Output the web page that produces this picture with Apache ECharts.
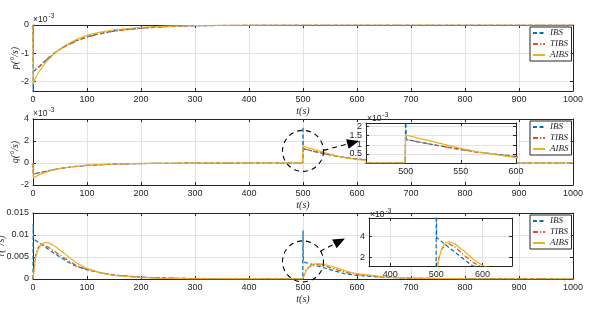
<!DOCTYPE html>
<html><head><meta charset="utf-8">
<script src="https://cdn.jsdelivr.net/npm/echarts@6/dist/echarts.min.js"></script>
<style>html,body{margin:0;padding:0;background:#fff}#c{width:601px;height:309px}</style>
</head><body><div id="c"></div>
<script>
// ---- tick labels ----
const xTicks = [0,100,200,300,400,500,600,700,800,900,1000];
const pTicks = [-2,-1,0];
const qTicks = [-2,0,2,4];
const rTicks = [0,0.005,0.01,0.015];
const qInsetXTicks = [500,550,600];
const qInsetYTicks = [0.5,1,1.5,2];
const rInsetXTicks = [400,500,600];
const rInsetYTicks = [0.002,0.004];
const seriesNames = ['IBS','TIBS','AIBS'];

// ---- p (x1e-3) ----
const pT_IBS  = [0,0.3,1,10,20,30,40,50,60,80,100,120,150,200,250,300,400,500,1000];
const pIBS    = [0,-2.45,-1.65,-1.52,-1.33,-1.15,-0.99,-0.86,-0.75,-0.56,-0.42,-0.32,-0.21,-0.11,-0.05,-0.025,-0.006,0,0];
const pT_TIBS = [0,1,10,20,30,40,50,60,80,100,120,150,200,250,300,400,500,1000];
const pTIBS   = [0,-1.62,-1.5,-1.32,-1.15,-1.0,-0.87,-0.76,-0.57,-0.43,-0.33,-0.22,-0.11,-0.055,-0.025,-0.006,0,0];
const pT_AIBS = [0,0.5,2,5,10,20,30,40,50,60,80,100,120,150,200,250,300,400,500,1000];
const pAIBS   = [0,-2.1,-2.02,-1.88,-1.7,-1.42,-1.2,-1.01,-0.85,-0.72,-0.52,-0.37,-0.27,-0.17,-0.08,-0.04,-0.018,-0.004,0,0];

// ---- q (x1e-3) ----
const qT_IBS  = [0,0.5,10,20,30,50,75,100,150,200,300,400,499.5,500,500.5,510,520,535,550,565,580,600,650,700,800,900,1000];
const qIBS    = [0,-1.0,-0.9,-0.8,-0.68,-0.5,-0.33,-0.22,-0.1,-0.05,-0.01,0,0,3.3,1.3,1.18,1.06,0.9,0.74,0.6,0.49,0.36,0.17,0.08,0.02,0,0];
const qT_TIBS = [0,0.5,10,20,30,50,75,100,150,200,300,400,499.5,500,510,520,535,550,565,580,600,650,700,800,900,1000];
const qTIBS   = [0,-1.02,-0.9,-0.8,-0.68,-0.5,-0.33,-0.22,-0.1,-0.05,-0.01,0,0,1.3,1.18,1.06,0.9,0.74,0.6,0.49,0.36,0.17,0.08,0.02,0,0];
const qT_AIBS = [0,0.5,10,20,30,50,75,100,150,200,300,400,499.5,500,510,520,535,550,565,580,600,650,700,800,900,1000];
const qAIBS   = [0,-1.35,-1.1,-0.9,-0.74,-0.5,-0.32,-0.2,-0.09,-0.04,-0.01,0,0,1.55,1.38,1.24,1.02,0.8,0.62,0.47,0.3,0.13,0.06,0.01,0,0];

// ---- r ----
const rT_IBS  = [0,0.3,1,10,20,30,40,50,60,70,80,100,125,150,200,250,300,400,499.5,500,500.5,520,540,560,577,600,650,700,800,1000];
const rIBS    = [0,0.0125,0.0091,0.0083,0.0075,0.0066,0.0058,0.005,0.0042,0.0035,0.0029,0.0021,0.0014,0.0009,0.0004,0.0002,0.00008,0.00002,0,0.011,0.0039,0.0032,0.0025,0.0018,0.0012,0.0008,0.0004,0.00018,0.00004,0];
const rT_TIBS = [0,5,10,15,20,30,40,50,60,80,100,125,150,200,250,300,400,499.5,505,512,520,527,540,560,580,600,650,700,800,1000];
const rTIBS   = [0,0.0055,0.0072,0.0077,0.0077,0.0071,0.0063,0.0054,0.0046,0.0031,0.0022,0.0014,0.0009,0.0004,0.0002,0.00008,0.00002,0,0.0019,0.0028,0.0032,0.0033,0.003,0.0022,0.0015,0.001,0.0004,0.00016,0.00003,0];
const rT_AIBS = [0,5,10,15,20,25,30,40,50,60,80,100,125,150,200,250,300,400,499.5,505,512,520,528,540,560,580,600,650,700,800,1000];
const rAIBS   = [0,0.005,0.0068,0.0078,0.0082,0.0083,0.0082,0.0075,0.0066,0.0056,0.0037,0.0024,0.0014,0.0008,0.0003,0.00012,0.00005,0.00001,0,0.0017,0.0029,0.0034,0.0035,0.0033,0.0026,0.0018,0.0012,0.0005,0.0002,0.00003,0];

const AX = '#262626', GRIDC = '#e2e2e2';
const SANS = '"Liberation Sans", Arial, Helvetica, sans-serif';
const SERIF = '"Liberation Serif", "DejaVu Serif", serif';
const COLORS = {IBS:'#0072BD', TIBS:'#D95319', AIBS:'#EDB120'};
const DASH = {IBS:[4,2.5], TIBS:[5,2,1.2,2], AIBS:'solid'};

const chart = echarts.init(document.getElementById('c'), null, {renderer:'canvas'});

const gBase = {outerBoundsMode:'none', containLabel:false};
const grids = [
  Object.assign({left:33, right:28, top:25, height:66}, gBase),
  Object.assign({left:33, right:28, top:119, height:66}, gBase),
  Object.assign({left:33, right:28, top:213, height:66}, gBase),
  Object.assign({left:366, top:123, width:150, height:40, show:true, backgroundColor:'#fff', borderWidth:0, z:3}, gBase),
  Object.assign({left:369, top:218, width:143, height:48, show:true, backgroundColor:'#fff', borderWidth:0, z:3}, gBase)
];

const xAxes = [], yAxes = [];
function addAxes(gi, xmin, xmax, xt, ymin, ymax, yt, o) {
  const z = o.z || 0;
  const common = {gridIndex:gi, type:'value', z:z,
    axisLine:{show:true, onZero:false, lineStyle:{color:AX, width:1}}};
  xAxes.push(Object.assign({}, common, {position:'bottom', min:xmin, max:xmax,
    axisTick:{show:true, inside:true, length:3, customValues:xt, lineStyle:{color:AX}},
    axisLabel:{show:true, customValues:xt, fontSize:9, color:AX, fontFamily:SANS, margin:4,
      formatter: v => String(v)},
    splitLine:{show:true, lineStyle:{color:GRIDC, width:1}},
    name:o.xName||'', nameLocation:'middle', nameGap:15, nameMoveOverlap:false,
    nameTextStyle:{fontFamily:SERIF, fontStyle:'italic', fontSize:10, color:AX}}));
  xAxes.push(Object.assign({}, common, {position:'top', min:xmin, max:xmax,
    axisTick:{show:true, inside:true, length:3, customValues:xt, lineStyle:{color:AX}},
    axisLabel:{show:false}, splitLine:{show:false}}));
  yAxes.push(Object.assign({}, common, {position:'left', min:ymin, max:ymax,
    axisTick:{show:true, inside:true, length:3, customValues:yt, lineStyle:{color:AX}},
    axisLabel:{show:true, customValues:yt, fontSize:9, color:AX, fontFamily:SANS, margin:4,
      formatter:o.yFmt || (v => String(v))},
    splitLine:{show:true, lineStyle:{color:GRIDC, width:1}},
    name:o.yName||'', nameLocation:'middle', nameGap:o.yGap||13, nameMoveOverlap:false,
    nameTextStyle:{fontFamily:SERIF, fontStyle:'italic', fontSize:10, color:AX}}));
  yAxes.push(Object.assign({}, common, {position:'right', min:ymin, max:ymax,
    axisTick:{show:true, inside:true, length:3, customValues:yt, lineStyle:{color:AX}},
    axisLabel:{show:false}, splitLine:{show:false}}));
}
addAxes(0, 0, 1000, xTicks, -2.35, 0, pTicks, {xName:'t(s)', yName:'p(°/s)'});
addAxes(1, 0, 1000, xTicks, -2, 4, qTicks, {xName:'t(s)', yName:'q(°/s)'});
addAxes(2, 0, 1000, xTicks, 0, 0.015, rTicks, {xName:'t(s)', yName:'r(°/s)', yGap:27});
addAxes(3, 464, 600, qInsetXTicks, 0, 2.2, qInsetYTicks, {z:4});
addAxes(4, 354, 664, rInsetXTicks, 0.00115, 0.0058, rInsetYTicks, {z:4, yFmt: v => String(Math.round(v*1000))});

function zip(t, v) { return t.map((x, i) => [x, v[i]]); }
const panelData = [
  {IBS:zip(pT_IBS,pIBS), TIBS:zip(pT_TIBS,pTIBS), AIBS:zip(pT_AIBS,pAIBS)},
  {IBS:zip(qT_IBS,qIBS), TIBS:zip(qT_TIBS,qTIBS), AIBS:zip(qT_AIBS,qAIBS)},
  {IBS:zip(rT_IBS,rIBS), TIBS:zip(rT_TIBS,rTIBS), AIBS:zip(rT_AIBS,rAIBS)}
];
const series = [];
function addLines(gi, data, z) {
  seriesNames.forEach(n => {
    series.push({type:'line', name:n, xAxisIndex:2*gi, yAxisIndex:2*gi, data:data[n],
      showSymbol:false, symbol:'none', clip:true, z:z, animation:false,
      lineStyle:{color:COLORS[n], width:1.2, type:DASH[n]}, itemStyle:{color:COLORS[n]}});
  });
}
addLines(0, panelData[0], 2);
addLines(1, panelData[1], 2);
addLines(2, panelData[2], 2);
addLines(3, panelData[1], 5);
addLines(4, panelData[2], 5);

function legend(top) {
  return {data:seriesNames, orient:'vertical', left:530, top:top, itemWidth:12, itemHeight:6, itemGap:1,
    padding:[1,3,1,2], borderColor:AX, borderWidth:1, backgroundColor:'#fff', selectedMode:false, z:6,
    itemStyle:{opacity:0, borderWidth:0},
    textStyle:{fontFamily:SERIF, fontStyle:'italic', fontSize:9, color:AX, lineHeight:10}};
}

chart.setOption({
  animation:false,
  backgroundColor:'#fff',
  grid:grids, xAxis:xAxes, yAxis:yAxes, series:series,
  legend:[legend(27), legend(121), legend(215)]
});

// ---- annotations (positions from the axes) ----
const g = [];
function expo(x, yBase) {
  g.push({type:'text', z:20, style:{text:'×10', x:x, y:yBase, fontSize:8.5, fontFamily:SANS, fill:AX, verticalAlign:'bottom'}});
  g.push({type:'text', z:20, style:{text:'-3', x:x+15.5, y:yBase-4, fontSize:6.5, fontFamily:SANS, fill:AX, verticalAlign:'bottom'}});
}
expo(33, 24); expo(33, 118); expo(367, 123); expo(370, 219);

function zoomMark(seriesIndex, pt, startOff, tipOff) {
  const c = chart.convertToPixel({seriesIndex:seriesIndex}, pt);
  const r = 20.5;
  g.push({type:'circle', z:20, shape:{cx:c[0], cy:c[1], r:r},
    style:{fill:'none', stroke:'#000', lineWidth:1.1, lineDash:[5,4]}});
  const s = [c[0]+startOff[0], c[1]+startOff[1]];
  const t = [c[0]+tipOff[0], c[1]+tipOff[1]];
  const dx = t[0]-s[0], dy = t[1]-s[1], L = Math.hypot(dx, dy);
  const ux = dx/L, uy = dy/L, hl = 12, hw = 5;
  const b = [t[0]-ux*hl, t[1]-uy*hl];
  g.push({type:'polyline', z:20, shape:{points:[s, b]},
    style:{stroke:'#000', lineWidth:1.1, lineDash:[5,4], fill:'none'}});
  g.push({type:'polygon', z:20, shape:{points:[t, [b[0]-uy*hw, b[1]+ux*hw], [b[0]+uy*hw, b[1]-ux*hw]]},
    style:{fill:'#000'}});
}
zoomMark(3, [500, 1.1], [20.5, -0.5], [56, -10]);
zoomMark(6, [500, 0.004], [17, -10], [42, -23]);

chart.setOption({graphic:{elements:g}});
</script></body></html>
